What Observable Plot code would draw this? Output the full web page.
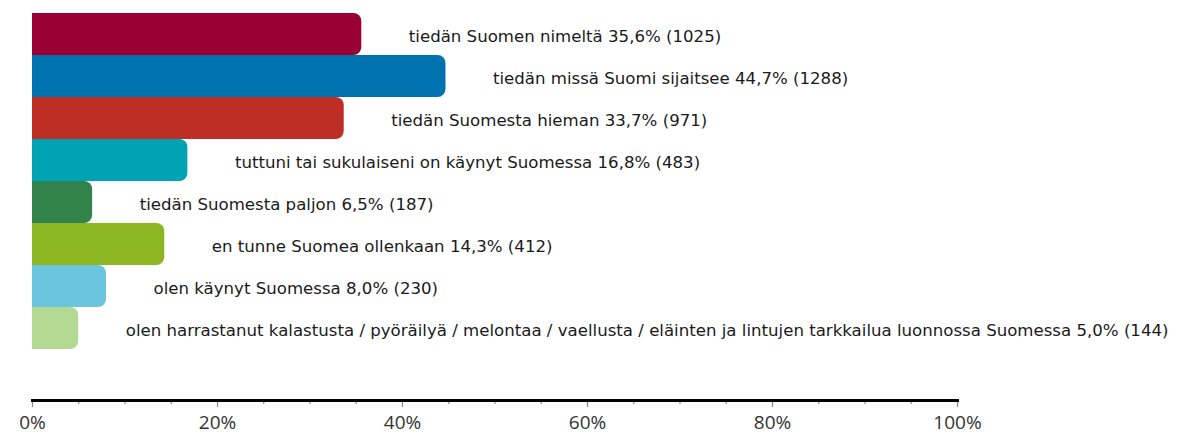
<!DOCTYPE html>
<html>
<head>
<meta charset="utf-8">
<script src="https://cdn.jsdelivr.net/npm/d3@7"></script>
<script src="https://cdn.jsdelivr.net/npm/@observablehq/plot@0.6"></script>
<style>
  html, body { margin: 0; padding: 0; background: #fff; }
</style>
</head>
<body>
<div id="chart"></div>
<script>
const categories = [
  "tiedän Suomen nimeltä",
  "tiedän missä Suomi sijaitsee",
  "tiedän Suomesta hieman",
  "tuttuni tai sukulaiseni on käynyt Suomessa",
  "tiedän Suomesta paljon",
  "en tunne Suomea ollenkaan",
  "olen käynyt Suomessa",
  "olen harrastanut kalastusta / pyöräilyä / melontaa / vaellusta / eläinten ja lintujen tarkkailua luonnossa Suomessa"
];
const percents = [35.6, 44.7, 33.7, 16.8, 6.5, 14.3, 8.0, 5.0];
const counts = [1025, 1288, 971, 483, 187, 412, 230, 144];
const colors = ["#990033", "#0072b0", "#bf2e24", "#00a3b4", "#32834b", "#8db722", "#6cc5df", "#b4d992"];
const majorTicks = [0, 20, 40, 60, 80, 100];
const minorTicks = [5, 10, 15, 25, 30, 35, 45, 50, 55, 65, 70, 75, 85, 90, 95];

const data = categories.map((c, i) => ({
  category: c,
  value: percents[i],
  count: counts[i],
  color: colors[i],
  label: `${c} ${percents[i].toFixed(1).replace(".", ",")}% (${counts[i]})`
}));

const chart = Plot.plot({
  width: 1184,
  height: 435,
  marginLeft: 32,
  marginRight: 227,
  marginTop: 11,
  marginBottom: 35,
  style: { fontFamily: "'Open Sans', sans-serif", background: "#fff", overflow: "visible" },
  x: { domain: [0, 100], label: null },
  y: { domain: categories, range: [11, 351], padding: 0, axis: null },
  marks: [
    Plot.barX(data, { x: "value", y: "category", fill: "color", rx: 8 }),
    Plot.barX(data, { x: d => d.value / 2, y: "category", fill: "color" }),
    Plot.text(data, {
      x: "value", y: "category", text: "label", textAnchor: "start", dx: 47, dy: 2,
      fontFamily: "'DejaVu Sans', sans-serif", fontSize: 16.6, fill: "#1a1a1a"
    }),
    Plot.axisX({ ticks: minorTicks, tickSize: 4, tickFormat: () => "", stroke: "#888", strokeWidth: 1.2, label: null }),
    Plot.axisX({
      ticks: majorTicks, tickSize: 7, tickPadding: 8, tickFormat: d => d + "%",
      stroke: "#888", strokeWidth: 1.2, fontSize: 19, fill: "#333", label: null,
      style: "letter-spacing: 1.5px"
    }),
    Plot.frame({ anchor: "bottom", stroke: "#000", strokeWidth: 3 })
  ]
});
document.getElementById("chart").appendChild(chart);
</script>
</body>
</html>
